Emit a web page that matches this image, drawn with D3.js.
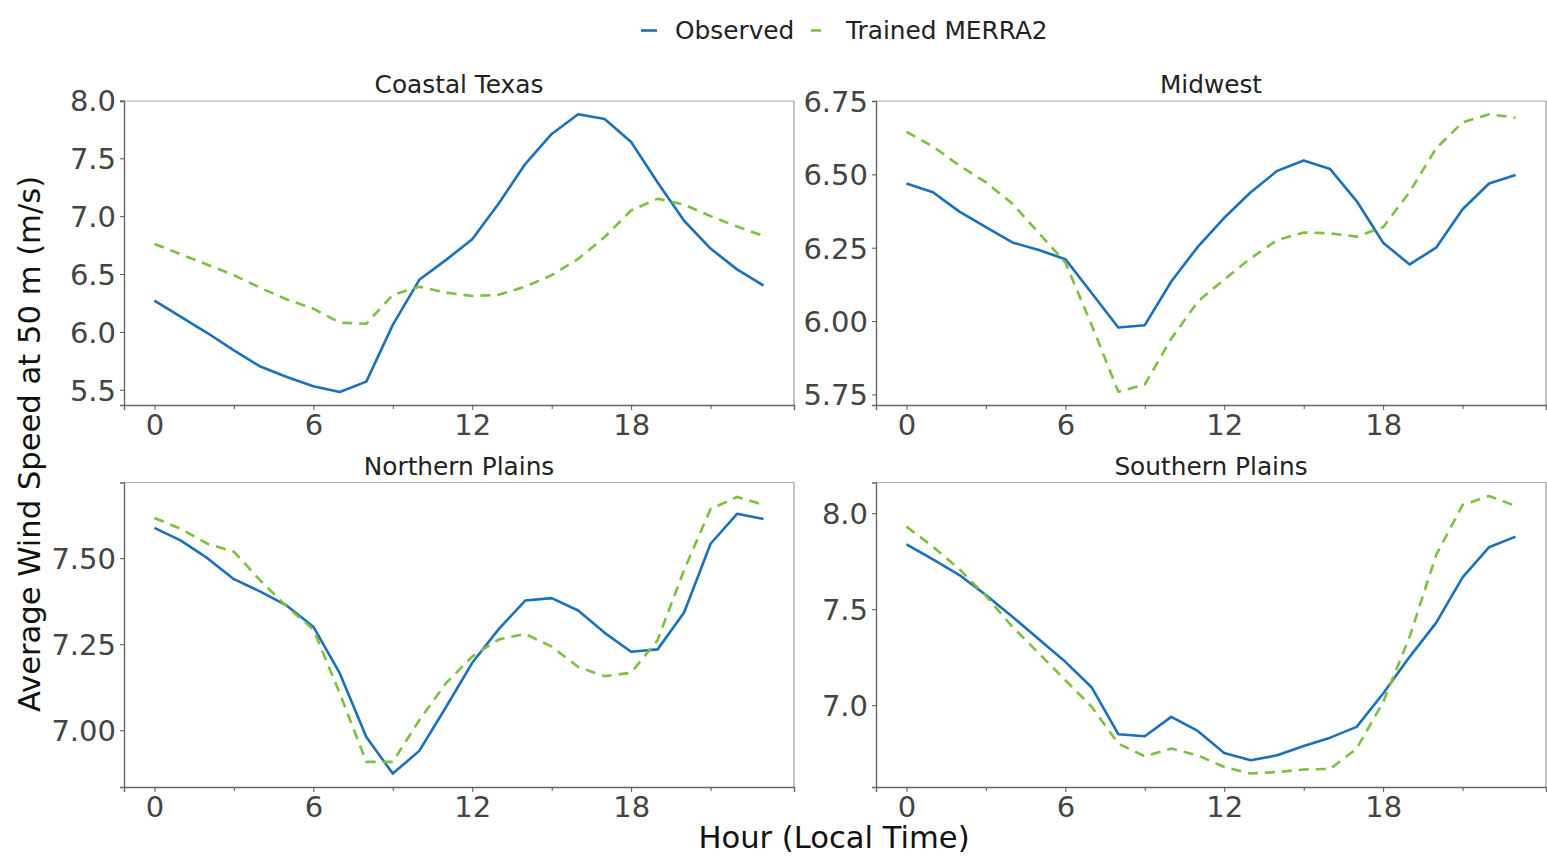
<!DOCTYPE html>
<html>
<head>
<meta charset="utf-8">
<script src="https://cdn.jsdelivr.net/npm/d3@7"></script>
<style>
  html, body { margin: 0; padding: 0; background: #fff; }
  svg { display: block; font-family: "DejaVu Sans", sans-serif; }
</style>
</head>
<body>
<svg id="chart" width="1547" height="856"></svg>
<script>
// ---------- data ----------
const hours = d3.range(0, 24);
const regions = ["Coastal Texas", "Midwest", "Northern Plains", "Southern Plains"];
const seriesNames = ["Observed", "Trained MERRA2"];

const coastalObserved = [6.27, 6.13, 5.99, 5.84, 5.70, 5.61, 5.53, 5.48, 5.57, 6.06, 6.45, 6.62,
  6.80, 7.11, 7.45, 7.71, 7.88, 7.84, 7.64, 7.29, 6.96, 6.72, 6.54, 6.40];
const coastalTrained = [6.76, 6.67, 6.58, 6.49, 6.38, 6.28, 6.20, 6.08, 6.07, 6.32, 6.39, 6.34,
  6.31, 6.32, 6.39, 6.49, 6.63, 6.82, 7.05, 7.15, 7.10, 7.00, 6.91, 6.83];

const midwestObserved = [6.469, 6.439, 6.373, 6.320, 6.268, 6.242, 6.211, 6.095, 5.978, 5.986, 6.135, 6.253,
  6.352, 6.439, 6.512, 6.547, 6.518, 6.409, 6.267, 6.193, 6.250, 6.381, 6.469, 6.498];
const midwestTrained = [6.645, 6.595, 6.530, 6.473, 6.400, 6.300, 6.200, 5.985, 5.759, 5.784, 5.940, 6.066,
  6.142, 6.214, 6.276, 6.302, 6.299, 6.288, 6.320, 6.440, 6.589, 6.677, 6.705, 6.693];

const northernObserved = [7.588, 7.551, 7.500, 7.439, 7.403, 7.362, 7.301, 7.165, 6.980, 6.874, 6.940, 7.066,
  7.196, 7.294, 7.377, 7.384, 7.348, 7.283, 7.228, 7.235, 7.342, 7.542, 7.629, 7.614];
const northernTrained = [7.617, 7.585, 7.542, 7.519, 7.435, 7.359, 7.293, 7.107, 6.908, 6.908, 7.029, 7.136,
  7.214, 7.264, 7.280, 7.243, 7.184, 7.157, 7.167, 7.262, 7.466, 7.643, 7.678, 7.655];

const southernObserved = [7.838, 7.760, 7.678, 7.574, 7.461, 7.343, 7.226, 7.092, 6.849, 6.838, 6.939, 6.866,
  6.751, 6.713, 6.739, 6.788, 6.831, 6.887, 7.061, 7.252, 7.429, 7.666, 7.823, 7.878];
const southernTrained = [7.930, 7.826, 7.708, 7.569, 7.409, 7.270, 7.130, 6.991, 6.800, 6.734, 6.774, 6.739,
  6.678, 6.644, 6.652, 6.665, 6.668, 6.774, 7.017, 7.356, 7.782, 8.043, 8.090, 8.038];

const xMajorTicks = [0, 6, 12, 18];
const xMinorTicks = [3, 9, 15, 21];
const yTicksCoastal = [5.5, 6.0, 6.5, 7.0, 7.5, 8.0];
const yTicksMidwest = [5.75, 6.00, 6.25, 6.50, 6.75];
const yTicksNorthern = [7.00, 7.25, 7.50];
const yTicksSouthern = [7.0, 7.5, 8.0];
const yDomains = [[5.368, 7.995], [5.714, 6.75], [6.835, 7.72], [6.574, 8.16]];
const yFormats = [".1f", ".2f", ".2f", ".1f"];

const xLabel = "Hour (Local Time)";
const yLabel = "Average Wind Speed at 50 m (m/s)";

// ---------- styling / layout ----------
const colors = ["#1b70b7", "#7dbf3f"];
const panels = [
  { title: regions[0], obs: coastalObserved, trn: coastalTrained, ticks: yTicksCoastal, x0: 124, x1: 794, y0: 101, y1: 405 },
  { title: regions[1], obs: midwestObserved, trn: midwestTrained, ticks: yTicksMidwest, x0: 876, x1: 1546, y0: 101, y1: 405 },
  { title: regions[2], obs: northernObserved, trn: northernTrained, ticks: yTicksNorthern, x0: 124, x1: 794, y0: 482.5, y1: 787 },
  { title: regions[3], obs: southernObserved, trn: southernTrained, ticks: yTicksSouthern, x0: 876, x1: 1546, y0: 482.5, y1: 787 }
];

const svg = d3.select("#chart");

panels.forEach((p, i) => {
  const x = d3.scaleLinear().domain([-1.15, 24.15]).range([p.x0, p.x1]);
  const y = d3.scaleLinear().domain(yDomains[i]).range([p.y1, p.y0]);
  const g = svg.append("g");

  // frame
  g.append("line").attr("x1", p.x0).attr("x2", p.x1).attr("y1", p.y0).attr("y2", p.y0)
    .attr("stroke", "#aaa").attr("stroke-width", 1.2);
  g.append("line").attr("x1", p.x1).attr("x2", p.x1).attr("y1", p.y0).attr("y2", p.y1)
    .attr("stroke", "#999").attr("stroke-width", 1.2);

  // x axis (major)
  const xAxis = g.append("g").attr("transform", `translate(0,${p.y1})`)
    .call(d3.axisBottom(x).tickValues(xMajorTicks).tickSize(5).tickPadding(4).tickFormat(d3.format("d")));
  // x minor ticks
  const xMinor = g.append("g").attr("transform", `translate(0,${p.y1})`)
    .call(d3.axisBottom(x).tickValues(xMinorTicks).tickSize(4).tickFormat(""));
  xMinor.select(".domain").remove();
  // y axis
  const yAxis = g.append("g").attr("transform", `translate(${p.x0},0)`)
    .call(d3.axisLeft(y).tickValues(p.ticks).tickSize(4).tickPadding(4).tickFormat(d3.format(yFormats[i])));

  [xAxis, xMinor, yAxis].forEach(a => {
    a.select(".domain").attr("stroke", "#666").attr("stroke-width", 1.4);
    a.selectAll(".tick line").attr("stroke", "#555").attr("stroke-width", 1);
    a.selectAll(".tick text").attr("fill", "#444").style("font-size", "29px")
      .style("font-family", "'DejaVu Sans', sans-serif");
  });
  yAxis.selectAll(".tick text").attr("dy", "0.36em");
  xAxis.selectAll(".tick text").attr("dy", "0.74em");

  // title
  g.append("text").attr("x", (p.x0 + p.x1) / 2).attr("y", p.y0 - 8)
    .attr("text-anchor", "middle").attr("fill", "#222")
    .style("font-size", "24.8px").text(p.title);

  // lines
  const line = d3.line().x((d, k) => x(hours[k])).y(d => y(d));
  g.append("path").datum(p.obs).attr("d", line)
    .attr("fill", "none").attr("stroke", colors[0]).attr("stroke-width", 2.6)
    .attr("stroke-linejoin", "round");
  g.append("path").datum(p.trn).attr("d", line)
    .attr("fill", "none").attr("stroke", colors[1]).attr("stroke-width", 2.6)
    .attr("stroke-dasharray", "10,7");
});

// axis labels
svg.append("text").attr("x", 834).attr("y", 848).attr("text-anchor", "middle")
  .attr("fill", "#111").style("font-size", "30.6px").text(xLabel);
svg.append("text").attr("transform", "translate(40,444) rotate(-90)").attr("text-anchor", "middle")
  .attr("fill", "#111").style("font-size", "30.6px").text(yLabel);

// legend
const legendItems = [
  { name: seriesNames[0], color: colors[0], dash: null, lx: 641, tx: 675 },
  { name: seriesNames[1], color: colors[1], dash: "10,7", lx: 811, tx: 846 }
];
const lg = svg.append("g");
legendItems.forEach(it => {
  lg.append("line").attr("x1", it.lx).attr("x2", it.lx + 16).attr("y1", 30.5).attr("y2", 30.5)
    .attr("stroke", it.color).attr("stroke-width", 2.6)
    .attr("stroke-dasharray", it.dash);
  lg.append("text").attr("x", it.tx).attr("y", 39).attr("fill", "#222")
    .style("font-size", "24.8px").text(it.name);
});
</script>
</body>
</html>
